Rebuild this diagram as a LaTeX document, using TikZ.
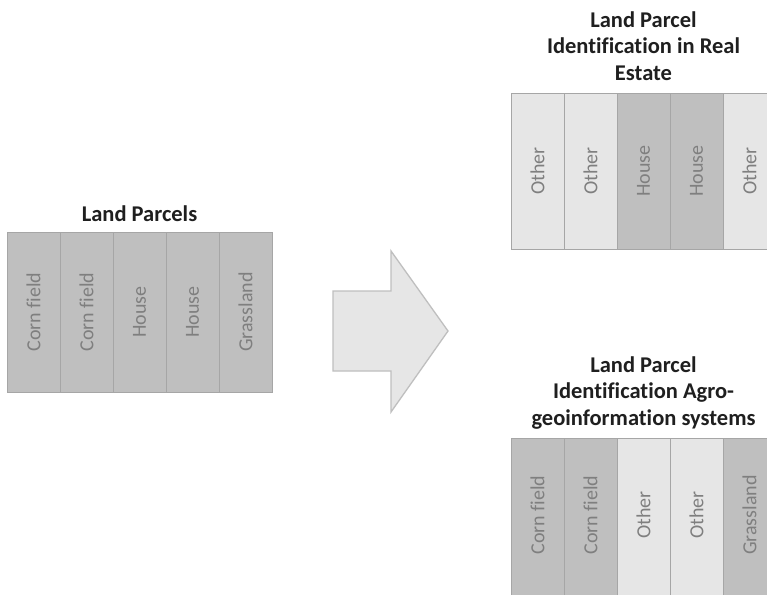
\documentclass[tikz,border=0pt]{standalone}
\usepackage{fontspec}
\setmainfont[Ligatures=NoCommon]{Carlito}
\definecolor{darkc}{HTML}{BFBFBF}
\definecolor{lightc}{HTML}{E6E6E6}
\definecolor{edgec}{HTML}{A6A6A6}
\definecolor{txtc}{HTML}{7F7F7F}
\definecolor{arrowedge}{HTML}{BFBFBF}
\definecolor{titlec}{HTML}{1F1F1F}
\tikzset{
  colbox/.style={draw=edgec, line width=1pt, inner sep=0pt, rotate=90,
    minimum height=53pt, font=\fontsize{20}{20}\selectfont, text=txtc},
  dark/.style={colbox, fill=darkc},
  light/.style={colbox, fill=lightc},
  coltext/.style={rotate=90, inner sep=0pt, font=\fontsize{20}{20}\selectfont, text=txtc},
  titletext/.style={align=center, anchor=base, inner sep=0pt, text=titlec,
    font=\fontsize{22.5}{26.5}\selectfont\bfseries},
  bigarrow/.style={draw=arrowedge, fill=lightc, line width=1.3pt, line join=miter}
}
\begin{document}
\begin{tikzpicture}[x=1pt,y=-1pt]
\useasboundingbox (0,0) rectangle (767,594);
\clip (0,0) rectangle (767,594);
\fill[white] (0,0) rectangle (767,594);

% left block
\node[titletext] (tleft) at (139.5,221) {Land Parcels};
\begin{scope}[every node/.append style={minimum width=160pt}]
\node[dark] (l1) at (33.5,312) {Corn field};
\node[dark] (l2) at (86.5,312) {Corn field};
\node[dark] (l3) at (139.5,312) {House};
\node[dark] (l4) at (192.5,312) {House};
\node[dark] (l5) at (245.5,312) {Grassland};
\end{scope}

% arrow
\draw[bigarrow] (333,291) -- (391,291) -- (391,251) -- (448,331) -- (391,412) -- (391,371) -- (333,371) -- cycle;

% top right block
\node[titletext] (ttop) at (643.5,80) {Land Parcel\\Identification in Real\\Estate};
\begin{scope}[every node/.append style={minimum width=156pt}]
\node[light] (r1) at (537.5,171) {Other};
\node[light] (r2) at (590.5,171) {Other};
\node[dark]  (r3) at (643.5,171) {House};
\node[dark]  (r4) at (696.5,171) {House};
\node[light] (r5) at (749.5,171) {Other};
\end{scope}

% bottom right block
\node[titletext] (tbot) at (643.5,425) {Land Parcel\\Identification Agro-\\geoinformation systems};
\begin{scope}[every node/.append style={minimum width=170pt}]
\node[dark]  (a1) at (537.5,523) {};
\node[dark]  (a2) at (590.5,523) {};
\node[light] (a3) at (643.5,523) {};
\node[light] (a4) at (696.5,523) {};
\node[dark]  (a5) at (749.5,523) {};
\end{scope}
\node[coltext] (a1t) at (537.5,515) {Corn field};
\node[coltext] (a2t) at (590.5,515) {Corn field};
\node[coltext] (a3t) at (643.5,515) {Other};
\node[coltext] (a4t) at (696.5,515) {Other};
\node[coltext] (a5t) at (749.5,515) {Grassland};
\end{tikzpicture}
\end{document}
